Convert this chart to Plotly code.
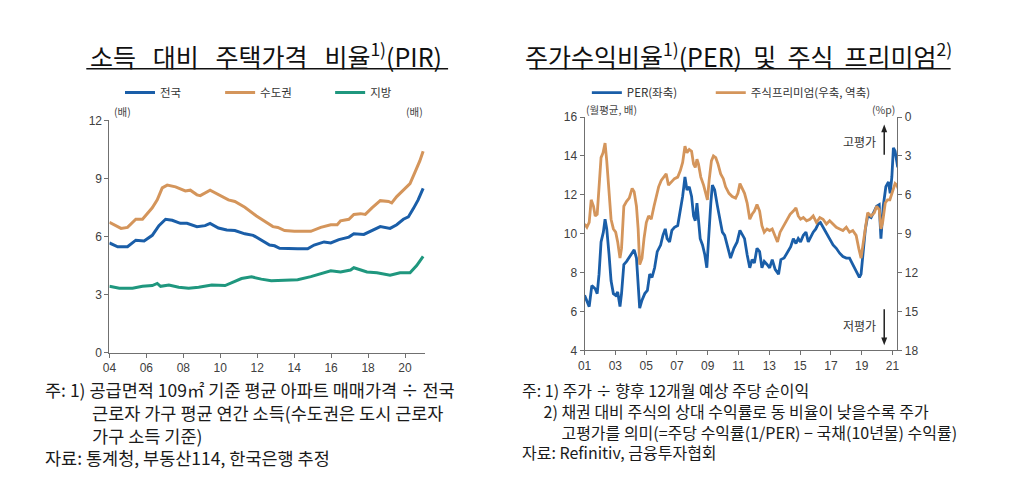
import plotly.graph_objects as go

# ---------------- Left chart: PIR (배) ----------------
cap_year = [2004.00, 2004.63, 2004.98, 2005.43, 2005.79, 2006.32, 2006.59, 2006.86, 2007.13, 2007.58,
            2008.11, 2008.38, 2008.74, 2008.92, 2009.45, 2009.90, 2010.44, 2010.79, 2011.33, 2011.96,
            2012.40, 2012.85, 2013.12, 2013.48, 2014.01, 2014.90, 2015.44, 2015.98, 2016.33, 2016.51,
            2016.96, 2017.23, 2017.59, 2017.85, 2018.21, 2018.66, 2019.11, 2019.28, 2019.55, 2019.91,
            2020.27, 2020.54, 2020.80, 2020.98]
cap_pir = [6.74, 6.43, 6.48, 6.90, 6.90, 7.49, 7.90, 8.52, 8.66, 8.57,
           8.36, 8.40, 8.16, 8.12, 8.40, 8.16, 7.90, 7.82, 7.52, 7.07,
           6.82, 6.52, 6.48, 6.32, 6.28, 6.28, 6.48, 6.62, 6.62, 6.82,
           6.90, 7.15, 7.19, 7.15, 7.49, 7.86, 7.82, 7.74, 8.07, 8.40,
           8.74, 9.33, 9.91, 10.41]

nat_year = [2004.00, 2004.45, 2004.98, 2005.43, 2005.88, 2006.32, 2006.68, 2007.04, 2007.40, 2007.84,
            2008.20, 2008.74, 2009.18, 2009.45, 2009.90, 2010.35, 2010.79, 2011.33, 2011.78, 2012.22,
            2012.67, 2012.94, 2013.21, 2014.19, 2014.73, 2015.08, 2015.62, 2015.98, 2016.42, 2016.96,
            2017.23, 2017.77, 2018.12, 2018.66, 2019.19, 2019.55, 2019.91, 2020.18, 2020.45, 2020.71,
            2020.98]
nat_pir = [5.68, 5.48, 5.48, 5.82, 5.78, 6.07, 6.57, 6.90, 6.85, 6.69,
           6.69, 6.52, 6.57, 6.69, 6.45, 6.35, 6.32, 6.15, 6.07, 5.82,
           5.57, 5.53, 5.40, 5.38, 5.38, 5.57, 5.73, 5.68, 5.85, 5.98,
           6.15, 6.12, 6.27, 6.52, 6.43, 6.62, 6.90, 7.02, 7.45, 7.90,
           8.49]

loc_year = [2004.00, 2004.54, 2005.25, 2005.79, 2006.32, 2006.59, 2006.77, 2007.22, 2007.75, 2008.29,
            2008.83, 2009.54, 2010.26, 2010.61, 2011.15, 2011.69, 2012.22, 2012.76, 2013.48, 2014.19,
            2014.90, 2015.62, 2015.98, 2016.51, 2017.05, 2017.23, 2017.50, 2017.94, 2018.48, 2019.19,
            2019.73, 2020.27, 2020.63, 2020.98]
loc_pir = [3.44, 3.34, 3.34, 3.44, 3.48, 3.59, 3.44, 3.51, 3.39, 3.34,
           3.39, 3.51, 3.48, 3.61, 3.84, 3.93, 3.81, 3.73, 3.76, 3.78,
           3.94, 4.14, 4.24, 4.18, 4.28, 4.40, 4.31, 4.18, 4.14, 4.01,
           4.14, 4.14, 4.51, 4.98]

pir_tick_years = [2004, 2006, 2008, 2010, 2012, 2014, 2016, 2018, 2020]
pir_tick_text = ["04", "06", "08", "10", "12", "14", "16", "18", "20"]
pir_y_ticks = [0, 3, 6, 9, 12]

# ---------------- Right chart: PER and equity premium ----------------
per_year = [2001.00, 2001.15, 2001.30, 2001.47, 2001.69, 2001.82, 2001.94, 2002.07, 2002.22, 2002.33,
            2002.44, 2002.59, 2002.72, 2002.87, 2003.02, 2003.15, 2003.30, 2003.40, 2003.55, 2003.73,
            2003.94, 2004.11, 2004.22, 2004.37, 2004.48, 2004.58, 2004.73, 2004.91, 2005.08, 2005.23,
            2005.38, 2005.55, 2005.72, 2005.94, 2006.09, 2006.24, 2006.36, 2006.52, 2006.67, 2006.84,
            2007.05, 2007.22, 2007.37, 2007.52, 2007.65, 2007.80, 2007.95, 2008.08, 2008.19, 2008.30,
            2008.38, 2008.51, 2008.66, 2008.81, 2008.94, 2009.05, 2009.20, 2009.30, 2009.45, 2009.63,
            2009.80, 2009.95, 2010.10, 2010.27, 2010.48, 2010.70, 2010.91, 2011.09, 2011.24, 2011.39,
            2011.56, 2011.73, 2011.88, 2012.03, 2012.20, 2012.37, 2012.52, 2012.67, 2012.85, 2013.02,
            2013.19, 2013.38, 2013.60, 2013.75, 2013.96, 2014.18, 2014.39, 2014.56, 2014.73, 2014.88,
            2015.03, 2015.21, 2015.38, 2015.53, 2015.68, 2015.85, 2016.02, 2016.17, 2016.32, 2016.49,
            2016.71, 2016.92, 2017.14, 2017.35, 2017.57, 2017.78, 2018.00, 2018.21, 2018.42, 2018.64,
            2018.85, 2018.96, 2019.11, 2019.24, 2019.39, 2019.61, 2019.82, 2019.97, 2020.14, 2020.25,
            2020.40, 2020.57, 2020.74, 2020.85, 2020.96, 2021.06, 2021.17, 2021.26, 2021.34]
per_val = [6.83, 6.58, 6.25, 7.33, 7.17, 6.92, 7.92, 9.58, 10.08, 10.75,
           10.25, 8.92, 7.58, 6.92, 6.83, 7.00, 6.25, 6.92, 8.42, 8.58,
           8.83, 9.08, 9.17, 8.75, 7.58, 6.17, 6.58, 6.92, 7.08, 7.92,
           7.75, 8.25, 9.08, 9.42, 9.92, 10.25, 9.75, 9.58, 10.17, 10.33,
           10.42, 11.25, 11.92, 12.92, 12.25, 12.42, 11.92, 10.92, 10.67, 11.58,
           10.75, 9.75, 9.42, 8.92, 8.25, 9.92, 11.58, 12.50, 12.25, 11.42,
           10.75, 10.08, 9.92, 9.42, 8.75, 9.25, 9.58, 10.17, 9.92, 9.75,
           8.92, 8.25, 8.67, 8.50, 9.25, 9.08, 8.25, 8.58, 8.42, 8.25,
           8.67, 8.17, 7.92, 8.67, 8.75, 9.08, 9.33, 9.75, 9.50, 9.75,
           9.58, 9.92, 10.08, 9.58, 9.83, 10.08, 10.25, 10.50, 10.58, 10.33,
           10.08, 9.75, 9.42, 9.25, 9.00, 8.83, 8.75, 8.75, 8.42, 8.08,
           7.75, 7.92, 9.08, 10.25, 10.92, 10.83, 11.17, 11.42, 11.50, 9.75,
           11.42, 12.42, 12.67, 12.08, 12.92, 14.42, 14.25, 13.83, 13.42]

prem_year = [2001.00, 2001.15, 2001.30, 2001.43, 2001.58, 2001.69, 2001.82, 2001.94, 2002.07, 2002.20,
             2002.33, 2002.44, 2002.59, 2002.72, 2002.87, 2003.02, 2003.15, 2003.30, 2003.40, 2003.55,
             2003.73, 2003.90, 2004.09, 2004.22, 2004.37, 2004.48, 2004.58, 2004.73, 2004.86, 2005.01,
             2005.16, 2005.33, 2005.51, 2005.66, 2005.81, 2005.98, 2006.15, 2006.30, 2006.45, 2006.62,
             2006.84, 2007.05, 2007.22, 2007.37, 2007.52, 2007.65, 2007.80, 2007.95, 2008.08, 2008.19,
             2008.30, 2008.40, 2008.55, 2008.73, 2008.88, 2008.98, 2009.09, 2009.24, 2009.37, 2009.52,
             2009.67, 2009.84, 2010.01, 2010.16, 2010.38, 2010.59, 2010.81, 2010.96, 2011.09, 2011.24,
             2011.39, 2011.56, 2011.73, 2011.88, 2012.03, 2012.20, 2012.37, 2012.52, 2012.67, 2012.85,
             2013.02, 2013.19, 2013.38, 2013.53, 2013.70, 2013.92, 2014.13, 2014.35, 2014.56, 2014.73,
             2014.88, 2015.03, 2015.21, 2015.42, 2015.64, 2015.85, 2016.06, 2016.28, 2016.49, 2016.71,
             2016.92, 2017.14, 2017.35, 2017.57, 2017.78, 2018.00, 2018.21, 2018.42, 2018.64, 2018.81,
             2018.96, 2019.11, 2019.24, 2019.39, 2019.61, 2019.82, 2019.97, 2020.14, 2020.25, 2020.36,
             2020.53, 2020.68, 2020.83, 2020.96, 2021.06, 2021.17, 2021.28, 2021.37]
prem_val = [8.25, 8.50, 8.13, 6.38, 6.88, 7.63, 7.50, 5.13, 3.13, 2.75,
            2.00, 3.38, 5.88, 7.88, 8.63, 8.88, 9.63, 10.88, 10.13, 6.88,
            6.50, 6.25, 5.50, 5.75, 6.88, 8.63, 11.38, 10.88, 9.38, 8.13,
            7.63, 7.88, 6.88, 6.13, 5.38, 4.88, 4.63, 4.38, 5.25, 5.00,
            4.75, 4.63, 4.13, 3.50, 2.25, 2.75, 2.50, 2.63, 3.63, 3.88,
            3.25, 3.63, 4.63, 5.25, 5.88, 6.38, 4.88, 3.38, 3.00, 3.13,
            3.63, 4.38, 4.75, 5.38, 5.88, 6.13, 6.25, 5.88, 5.13, 5.50,
            5.88, 6.63, 7.88, 7.50, 7.25, 6.75, 7.25, 8.38, 8.88, 8.63,
            8.75, 8.63, 9.13, 9.63, 8.88, 8.38, 7.88, 7.50, 7.25, 7.00,
            7.63, 7.88, 7.75, 8.00, 7.88, 7.63, 8.13, 7.75, 7.88, 8.25,
            8.00, 8.25, 8.50, 8.63, 8.75, 8.50, 8.88, 8.75, 9.13, 10.13,
            10.88, 9.63, 8.38, 7.38, 7.63, 7.38, 6.88, 7.13, 8.63, 8.13,
            6.63, 6.38, 6.38, 5.88, 5.50, 5.13, 5.25, 5.50]

per_tick_years = [2001, 2003, 2005, 2007, 2009, 2011, 2013, 2015, 2017, 2019, 2021]
per_tick_text = ["01", "03", "05", "07", "09", "11", "13", "15", "17", "19", "21"]
per_left_ticks = [4, 6, 8, 10, 12, 14, 16]
prem_right_ticks = [0, 3, 6, 9, 12, 15, 18]

# ---------------- styling ----------------
W, H = 1024, 498
BLUE = "#1a5ea8"
ORANGE = "#d4955b"
GREEN = "#1f977e"
AXIS = "#707070"
TICKF = dict(family="Arial, Liberation Sans, sans-serif", size=12, color="#404040")
KR = "Noto Sans CJK KR"
NB = "\u00a0"


def px(x):
    return x / W


def py(y):
    return 1 - y / H


fig = go.Figure()
fig.add_trace(go.Scatter(x=nat_year, y=nat_pir, name="전국", mode="lines",
                         line=dict(color=BLUE, width=3), xaxis="x", yaxis="y", legend="legend"))
fig.add_trace(go.Scatter(x=cap_year, y=cap_pir, name="수도권", mode="lines",
                         line=dict(color=ORANGE, width=3), xaxis="x", yaxis="y", legend="legend3"))
fig.add_trace(go.Scatter(x=loc_year, y=loc_pir, name="지방", mode="lines",
                         line=dict(color=GREEN, width=3), xaxis="x", yaxis="y", legend="legend4"))
# premium first so PER is drawn on top
fig.add_trace(go.Scatter(x=prem_year, y=prem_val, name="주식프리미엄(우축, 역축)", mode="lines",
                         line=dict(color=ORANGE, width=2.8), xaxis="x2", yaxis="y4", legend="legend5"))
fig.add_trace(go.Scatter(x=per_year, y=per_val, name="PER(좌축)", mode="lines",
                         line=dict(color=BLUE, width=2.8), xaxis="x2", yaxis="y3", legend="legend2"))

axis_common = dict(showline=True, linecolor=AXIS, linewidth=1, ticks="outside", ticklen=4,
                   tickcolor=AXIS, showgrid=False, zeroline=False, tickfont=TICKF, fixedrange=True)


def leg(x):
    return dict(orientation="h", x=px(x), y=py(88), xanchor="left", yanchor="middle",
                font=dict(family=KR, size=11.5, color="#333333"),
                bgcolor="rgba(0,0,0,0)", itemwidth=30)


fig.update_layout(
    width=W, height=H, margin=dict(l=0, r=0, t=0, b=0),
    paper_bgcolor="white", plot_bgcolor="white",
    font=dict(family=KR, color="#222222"),
    xaxis=dict(domain=[px(103.3), px(421.7)], range=[2004, 2021.08], anchor="y",
               tickmode="array", tickvals=pir_tick_years, ticktext=pir_tick_text, **axis_common),
    yaxis=dict(domain=[py(356), py(116.7)], range=[0, 12], anchor="x",
               tickmode="array", tickvals=pir_y_ticks, **axis_common),
    yaxis2=dict(domain=[py(356), py(116.7)], range=[0, 12], anchor="x", overlaying="y", side="right",
                tickmode="array", tickvals=pir_y_ticks, **axis_common),
    xaxis2=dict(domain=[px(582.7), px(898.3)], range=[2001, 2021.32], anchor="y3",
                tickmode="array", tickvals=per_tick_years, ticktext=per_tick_text, **axis_common),
    yaxis3=dict(domain=[py(353.3), py(113.3)], range=[4, 16], anchor="x2",
                tickmode="array", tickvals=per_left_ticks, **axis_common),
    yaxis4=dict(domain=[py(353.3), py(113.3)], range=[18, 0], anchor="x2", overlaying="y3", side="right",
                tickmode="array", tickvals=prem_right_ticks, **axis_common),
    legend=leg(114), legend3=leg(215), legend4=leg(326),
    legend2=leg(585), legend5=leg(710),
    showlegend=True,
)

annotations = [
    # titles
    dict(text="소득   대비   주택가격   비율<sup>1)</sup>(PIR)", x=px(261), y=py(49), xref="paper", yref="paper",
         showarrow=False, font=dict(family=KR, size=25, color="#111111"), xanchor="center", yanchor="middle"),
    dict(text="주가수익비율<sup>1)</sup>(PER)  및  주식  프리미엄<sup>2)</sup>", x=px(738), y=py(49),
         xref="paper", yref="paper", showarrow=False,
         font=dict(family=KR, size=25, color="#111111"), xanchor="center", yanchor="middle"),
    # unit labels
    dict(text="(배)", x=px(106), y=py(108), xref="paper", yref="paper", showarrow=False,
         font=dict(family=KR, size=10.5, color="#444444"), xanchor="left", yanchor="middle"),
    dict(text="(배)", x=px(422), y=py(108), xref="paper", yref="paper", showarrow=False,
         font=dict(family=KR, size=10.5, color="#444444"), xanchor="right", yanchor="middle"),
    dict(text="(월평균, 배)", x=px(582), y=py(105), xref="paper", yref="paper", showarrow=False,
         font=dict(family=KR, size=10.5, color="#444444"), xanchor="left", yanchor="middle"),
    dict(text="(%p)", x=px(898), y=py(105), xref="paper", yref="paper", showarrow=False,
         font=dict(family=KR, size=10.5, color="#444444"), xanchor="right", yanchor="middle"),
    # valuation labels
    dict(text="고평가", x=px(879), y=py(138), xref="paper", yref="paper", showarrow=False,
         font=dict(family=KR, size=12, color="#333333"), xanchor="right", yanchor="middle"),
    dict(text="저평가", x=px(879), y=py(328), xref="paper", yref="paper", showarrow=False,
         font=dict(family=KR, size=12, color="#333333"), xanchor="right", yanchor="middle"),
]

foot_left = [
    "주: 1) 공급면적 109㎡ 기준 평균 아파트 매매가격 ÷ 전국",
    NB * 12 + "근로자 가구 평균 연간 소득(수도권은 도시 근로자",
    NB * 12 + "가구 소득 기준)",
    "자료: 통계청, 부동산114, 한국은행 추정",
]
foot_right = [
    "주: 1) 주가 ÷ 향후 12개월 예상 주당 순이익",
    NB * 6 + "2) 채권 대비 주식의 상대 수익률로 동 비율이 낮을수록 주가",
    NB * 11 + "고평가를 의미(=주당 수익률(1/PER) − 국채(10년물) 수익률)",
    "자료: Refinitiv, 금융투자협회",
]
annotations.append(dict(text="<br>".join(foot_left), x=px(36), y=py(379), xref="paper", yref="paper",
                        showarrow=False, align="left", xanchor="left", yanchor="top",
                        font=dict(family=KR, size=17.5, color="#1a1a1a")))
annotations.append(dict(text="<br>".join(foot_right), x=px(518), y=py(380), xref="paper", yref="paper",
                        showarrow=False, align="left", xanchor="left", yanchor="top",
                        font=dict(family=KR, size=16, color="#1a1a1a")))

fig.update_layout(annotations=annotations)


def arrow_shapes(xc, y_tail, y_head):
    d = 1 if y_head > y_tail else -1
    return [
        dict(type="line", xref="paper", yref="paper", x0=px(xc), x1=px(xc),
             y0=py(y_tail), y1=py(y_head - d * 6), line=dict(color="#222222", width=1.5)),
        dict(type="path", xref="paper", yref="paper", fillcolor="#222222", line=dict(width=0),
             path=f"M {px(xc - 3)} {py(y_head - d * 8)} L {px(xc + 3)} {py(y_head - d * 8)} "
                  f"L {px(xc)} {py(y_head)} Z"),
    ]


shapes = [
    dict(type="line", xref="paper", yref="paper", x0=px(80), x1=px(445), y0=py(63.5), y1=py(63.5),
         line=dict(color="#111111", width=1.5)),
    dict(type="line", xref="paper", yref="paper", x0=px(527), x1=px(952), y0=py(63.5), y1=py(63.5),
         line=dict(color="#111111", width=1.5)),
]
shapes += arrow_shapes(885, 152, 121)
shapes += arrow_shapes(885, 311, 348)
fig.update_layout(shapes=shapes)

fig.write_html("out.html")
